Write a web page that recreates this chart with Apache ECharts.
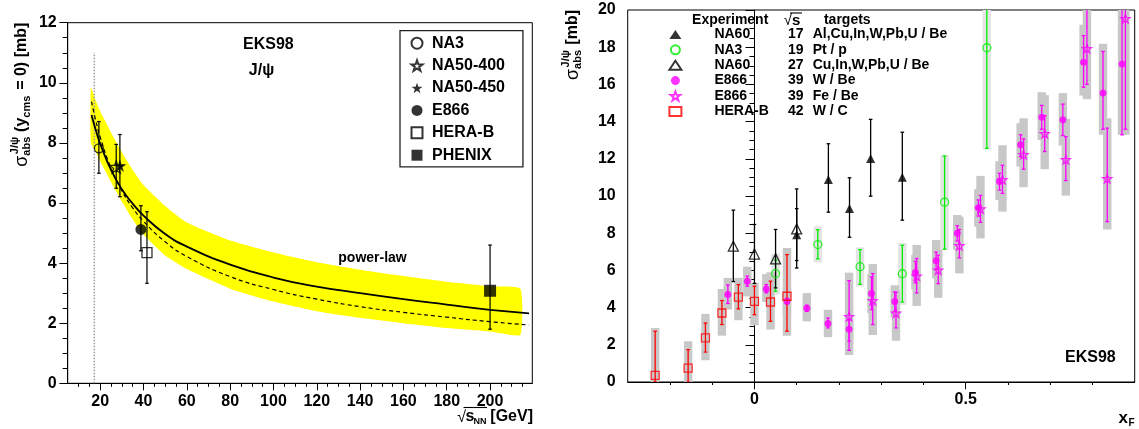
<!DOCTYPE html>
<html><head><meta charset="utf-8">
<script src="https://cdn.jsdelivr.net/npm/echarts@6/dist/echarts.min.js"></script>
<style>html,body{margin:0;padding:0;background:#fff}#c{width:1139px;height:429px}</style>
</head><body><div id="c"></div>
<script>
// ---------------- Left panel data ----------------
const leftNames = ['NA3', 'NA50-400', 'NA50-450', 'E866', 'HERA-B', 'PHENIX'];
const leftX  = [19.4, 27.4, 29.1, 38.8, 41.6, 200];
const leftY  = [7.82, 7.2, 7.24, 5.12, 4.35, 3.08];
const leftLo = [6.99, 6.49, 6.21, 4.41, 3.33, 1.80];
const leftHi = [8.71, 7.95, 8.28, 5.91, 5.71, 4.60];

const curveX  = [16, 18, 20, 25, 30, 35, 40, 50, 60, 80, 100, 120, 140, 160, 180, 200, 218];
const solidY  = [8.93, 8.42, 7.97, 7.10, 6.46, 5.98, 5.58, 4.97, 4.55, 3.95, 3.52, 3.22, 3.00, 2.80, 2.62, 2.44, 2.33];
const dashedY = [9.37, 8.73, 8.19, 7.16, 6.41, 5.84, 5.39, 4.71, 4.22, 3.55, 3.12, 2.80, 2.55, 2.36, 2.20, 2.05, 1.94];

const bandX     = [15.7, 18, 20, 25, 30, 35, 40, 50, 60, 80, 100, 120, 140, 160, 180, 200, 214];
const bandUpper = [9.84, 9.4, 9.05, 8.35, 7.7, 7.1, 6.6, 5.9, 5.35, 4.75, 4.35, 4.03, 3.78, 3.57, 3.38, 3.23, 3.15];
const bandLower = [7.99, 7.7, 7.4, 6.7, 6.05, 5.45, 4.95, 4.25, 3.8, 3.15, 2.72, 2.4, 2.18, 2.0, 1.84, 1.72, 1.61];

const thresholdX = 17.3;
const thresholdTop = 11;

const leftXLabels = [20, 40, 60, 80, 100, 120, 140, 160, 180, 200];
const leftXMinor  = [10, 15, 25, 30, 35, 45, 50, 55, 65, 70, 75, 85, 90, 95, 105, 110, 115, 125, 130, 135, 145, 150, 155, 165, 170, 175, 185, 190, 195, 205, 210, 215];

// ---------------- Right panel data ----------------
const rightSeriesNames = ['NA60 17', 'NA3 19', 'NA60 27', 'E866 W', 'E866 Fe', 'HERA-B 42'];
const rExpNames = ['NA60', 'NA3', 'NA60', 'E866', 'E866', 'HERA-B'];
const rSqrtS    = ['17', '19', '27', '39', '39', '42'];
const rTargets  = ['Al,Cu,In,W,Pb,U / Be', 'Pt / p', 'Cu,In,W,Pb,U / Be', 'W / Be', 'Fe / Be', 'W / C'];

const na60aX  = [0.1, 0.175, 0.225, 0.275, 0.35];
const na60aY  = [7.92, 10.89, 9.33, 12.02, 11.01];
const na60aLo = [6.53, 9.13, 7.78, 9.99, 8.70];
const na60aHi = [9.32, 12.81, 10.98, 14.12, 13.43];

const na3X     = [0.05, 0.15, 0.25, 0.35, 0.45, 0.55];
const na3Y     = [5.83, 7.39, 6.2, 5.82, 9.67, 17.97];
const na3Lo    = [4.88, 6.62, 5.25, 4.3, 7.14, 12.56];
const na3Hi    = [6.55, 8.19, 7.12, 7.35, 12.15, 20.8];
const na3SysLo = [4.7, 6.43, 5.14, 4.15, 7.1, 12.5];
const na3SysHi = [6.9, 8.37, 7.24, 7.48, 12.2, 20.8];

const na60bX  = [-0.05, 0.0, 0.05, 0.1];
const na60bY  = [7.3, 6.88, 6.62, 8.23];
const na60bLo = [5.4, 5.3, 5.06, 6.13];
const na60bHi = [9.24, 8.47, 8.2, 10.38];

const e866wX     = [-0.063, -0.017, 0.028, 0.077, 0.124, 0.174, 0.224, 0.277, 0.332, 0.381, 0.430, 0.480, 0.530, 0.580, 0.630, 0.680, 0.730, 0.779, 0.825, 0.870];
const e866wY     = [4.70, 5.42, 5.0, 4.34, 3.97, 3.15, 2.84, 4.76, 4.33, 5.89, 6.52, 8.0, 9.37, 10.78, 12.76, 14.24, 14.1, 17.19, 15.54, 17.1];
const e866wLo    = [4.22, 5.15, 4.79, 4.2, 3.80, 2.91, 2.2, 3.89, 3.80, 5.33, 6.05, 7.58, 8.92, 10.32, 12.12, 13.59, 13.25, 15.85, 13.59, 13.29];
const e866wHi    = [5.22, 5.69, 5.24, 4.5, 4.13, 3.44, 3.35, 5.65, 4.84, 6.49, 6.98, 8.40, 9.79, 11.22, 13.29, 14.87, 14.94, 18.62, 17.77, 20.8];
const e866wSysLo = [3.9, 4.6, 4.3, 3.6, 3.26, 2.41, 1.45, 3.7, 3.5, 4.98, 5.57, 7.1, 8.35, 9.78, 11.58, 13.02, 12.71, 15.40, 13.29, 13.29];
const e866wSysHi = [5.6, 6.2, 5.8, 5.1, 4.78, 3.88, 3.66, 5.8, 5.2, 6.83, 7.63, 8.98, 10.37, 11.87, 13.91, 15.58, 15.53, 19.21, 18.19, 20.8];

const e866fX     = [0.224, 0.280, 0.335, 0.384, 0.435, 0.485, 0.535, 0.587, 0.637, 0.687, 0.737, 0.787, 0.835, 0.878];
const e866fY     = [3.52, 4.38, 3.70, 5.69, 6.02, 7.33, 9.31, 10.88, 12.22, 13.35, 11.95, 17.92, 10.93, 19.53];
const e866fLo    = [1.7, 3.09, 2.91, 4.79, 5.29, 6.67, 8.58, 10.14, 11.44, 12.39, 10.83, 16.0, 8.62, 13.59];
const e866fHi    = [5.45, 5.83, 4.82, 6.64, 6.82, 8.2, 10.03, 11.65, 13.07, 14.32, 13.19, 20.8, 13.65, 20.8];
const e866fSysLo = [2.04, 2.53, 2.22, 4.09, 4.53, 5.84, 7.72, 9.16, 10.47, 11.44, 10.02, 15.2, 8.2, 13.29];
const e866fSysHi = [5.88, 6.34, 4.95, 7.37, 7.1, 8.89, 11.08, 12.73, 14.18, 15.42, 14.15, 20.8, 14.18, 20.8];

const herabX     = [-0.235, -0.157, -0.116, -0.077, -0.038, 0.0, 0.038, 0.077];
const herabY     = [0.36, 0.75, 2.37, 3.71, 4.56, 4.34, 4.30, 4.61];
const herabLo    = [0, 0, 1.61, 3.09, 3.93, 3.62, 3.26, 2.73];
const herabHi    = [2.73, 1.74, 3.17, 4.38, 5.24, 5.15, 5.42, 6.85];
const herabSysLo = [0, 0, 1.17, 2.49, 3.32, 3.05, 2.82, 2.49];
const herabSysHi = [2.9, 2.19, 3.66, 5.0, 5.6, 5.33, 5.9, 7.21];

const rightXLabels = [0, 0.5];
const rightXMinor  = [-0.2, -0.1, 0.1, 0.2, 0.3, 0.4, 0.6, 0.7, 0.8];

// ---------------- helpers ----------------
const FONT = 'Liberation Sans, Arial, Helvetica, sans-serif';
const STAR = 'path://M10,0 L12.35,6.76 L19.51,6.91 L13.8,11.24 L15.88,18.09 L10,14 L4.12,18.09 L6.2,11.24 L0.49,6.91 L7.65,6.76 Z';
const HOLLOW = 'rgba(0,0,0,0)';
const zip2 = (xs, ys) => xs.map((x, i) => [x, ys[i]]);
const zip3 = (xs, a, b) => xs.map((x, i) => [x, a[i], b[i]]);

function errRender(color, cap, lw) {
  return function (params, api) {
    const x = api.value(0), lo = api.value(1), hi = api.value(2);
    const a = api.coord([x, lo]), b = api.coord([x, hi]);
    const st = { stroke: color, lineWidth: lw };
    return { type: 'group', children: [
      { type: 'line', shape: { x1: a[0], y1: a[1], x2: b[0], y2: b[1] }, style: st },
      { type: 'line', shape: { x1: a[0] - cap, y1: a[1], x2: a[0] + cap, y2: a[1] }, style: st },
      { type: 'line', shape: { x1: b[0] - cap, y1: b[1], x2: b[0] + cap, y2: b[1] }, style: st }
    ] };
  };
}
function boxRender(fill, halfW) {
  return function (params, api) {
    const x = api.value(0), lo = api.value(1), hi = api.value(2);
    const a = api.coord([x, lo]), b = api.coord([x, hi]);
    return { type: 'rect', shape: { x: a[0] - halfW, y: b[1], width: 2 * halfW, height: a[1] - b[1] }, style: { fill: fill } };
  };
}
function bandRender(params, api) {
  const pts = [];
  for (let i = 0; i < bandX.length; i++) pts.push(api.coord([bandX[i], bandUpper[i]]));
  for (let i = bandX.length - 1; i >= 0; i--) pts.push(api.coord([bandX[i], bandLower[i]]));
  return { type: 'polygon', shape: { points: pts, smooth: 0.15 }, style: { fill: '#ffff00' } };
}

const axisLabelStyle = { color: '#000', fontFamily: FONT, fontWeight: 'bold', fontSize: 16 };
const blackLine = { lineStyle: { color: '#000', width: 1 } };

function scatterL(i, symbol, size, filled, z) {
  return { type: 'scatter', name: leftNames[i], xAxisIndex: 0, yAxisIndex: 0, z: z || 6,
    symbol: symbol, symbolSize: size, symbolKeepAspect: true, data: [[leftX[i], leftY[i]]],
    itemStyle: filled ? { color: '#000' } : { color: HOLLOW, borderColor: '#000', borderWidth: 1.3 } };
}
function scatterR(name, xs, ys, symbol, size, color, filled) {
  return { type: 'scatter', name: name, xAxisIndex: 2, yAxisIndex: 1, z: 6,
    symbol: symbol, symbolSize: size, symbolKeepAspect: true, data: zip2(xs, ys),
    itemStyle: filled ? { color: color } : { color: HOLLOW, borderColor: color, borderWidth: 1.3 } };
}
function errR(xs, lo, hi, color) {
  return { type: 'custom', xAxisIndex: 2, yAxisIndex: 1, z: 4, clip: true, silent: true,
    renderItem: errRender(color, 1.8, 1.3), data: zip3(xs, lo, hi) };
}
function boxR(xs, lo, hi, fill, z) {
  return { type: 'custom', xAxisIndex: 2, yAxisIndex: 1, z: z, clip: true, silent: true,
    renderItem: boxRender(fill, 4.2), data: zip3(xs, lo, hi) };
}

const series = [
  // left panel
  { type: 'custom', xAxisIndex: 0, yAxisIndex: 0, z: 1, silent: true, data: [[bandX[0], bandLower[0]]], renderItem: bandRender },
  { type: 'line', xAxisIndex: 0, yAxisIndex: 0, z: 2, symbol: 'none', silent: true,
    data: [[thresholdX, 0], [thresholdX, thresholdTop]], lineStyle: { color: '#9a9a9a', width: 1.5, type: [1.5, 1.5] } },
  { type: 'line', xAxisIndex: 0, yAxisIndex: 0, z: 3, symbol: 'none', smooth: true, silent: true,
    data: zip2(curveX, solidY), lineStyle: { color: '#000', width: 1.8 } },
  { type: 'line', xAxisIndex: 0, yAxisIndex: 0, z: 3, symbol: 'none', smooth: true, silent: true,
    data: zip2(curveX, dashedY), lineStyle: { color: '#000', width: 1.2, type: [4, 3] } },
  { type: 'custom', xAxisIndex: 0, yAxisIndex: 0, z: 4, silent: true,
    renderItem: errRender('#000', 1.8, 1.2), data: zip3(leftX, leftLo, leftHi) },
  scatterL(0, 'circle', 9, false),
  scatterL(1, STAR, 13, false, 6),
  scatterL(2, STAR, 13, true, 7),
  scatterL(3, 'circle', 11, true),
  scatterL(4, 'rect', 10, false),
  scatterL(5, 'rect', 12, true),
  // right panel
  boxR(na3X, na3SysLo, na3SysHi, '#e4e4e4', 1),
  boxR(herabX, herabSysLo, herabSysHi, '#c8c8c8', 2),
  boxR(e866wX, e866wSysLo, e866wSysHi, '#c8c8c8', 2),
  boxR(e866fX, e866fSysLo, e866fSysHi, '#c8c8c8', 2),
  errR(na60aX, na60aLo, na60aHi, '#000'),
  errR(na3X, na3Lo, na3Hi, '#00ee00'),
  errR(na60bX, na60bLo, na60bHi, '#000'),
  errR(e866wX, e866wLo, e866wHi, '#ff00ff'),
  errR(e866fX, e866fLo, e866fHi, '#ff00ff'),
  errR(herabX, herabLo, herabHi, '#ff0000'),
  scatterR(rightSeriesNames[0], na60aX, na60aY, 'triangle', 9, '#000', true),
  scatterR(rightSeriesNames[1], na3X, na3Y, 'circle', 8, '#00ee00', false),
  scatterR(rightSeriesNames[2], na60bX, na60bY, 'triangle', 10, '#000', false),
  scatterR(rightSeriesNames[3], e866wX, e866wY, 'circle', 7, '#ff00ff', true),
  scatterR(rightSeriesNames[4], e866fX, e866fY, STAR, 9, '#ff00ff', false),
  scatterR(rightSeriesNames[5], herabX, herabY, 'rect', 8, '#ff0000', false)
];

function txt(x, y, text, size, align, weight, extra) {
  return Object.assign({ type: 'text', x: x, y: y, z: 100,
    style: { text: text, fill: '#000', font: (weight || 'bold') + ' ' + size + 'px ' + FONT,
      textAlign: align || 'left', textVerticalAlign: 'middle', verticalAlign: 'middle' } }, extra || {});
}
function line(x1, y1, x2, y2) {
  return { type: 'line', z: 100, shape: { x1: x1, y1: y1, x2: x2, y2: y2 }, style: { stroke: '#000', lineWidth: 1.1 } };
}

const graphic = [
  // left panel texts
  txt(268.4, 44.3, 'EKS98', 16, 'center'),
  txt(261.5, 70.7, 'J/ψ', 16, 'center'),
  txt(372.5, 258, 'power-law', 14, 'center'),
  { type: 'group', x: 22, y: 22.7, rotation: Math.PI / 2, children: [
    txt(0, 0, ' = 0) [mb]', 16, 'right'),
    txt(-73, 5, 'cms', 11, 'right'),
    txt(-95, 0, ' (y', 16, 'right'),
    txt(-114, 5, 'abs', 11, 'right'),
    txt(-114, -7, 'J/ψ', 11, 'right'),
    txt(-133, 0, 'σ', 18, 'right', 'normal')
  ] },
  txt(533, 417, '[GeV]', 16, 'right'),
  txt(486.5, 422, 'NN', 9, 'right'),
  txt(474.5, 417, 's', 16, 'right'),
  txt(466, 418, '√', 16, 'right', 'normal'),
  line(463.5, 407.5, 487, 407.5),
  // right panel texts
  txt(730.2, 20.4, 'Experiment', 14, 'center'),
  txt(792, 21, '√', 15, 'right', 'normal'),
  txt(792, 21, 's', 15, 'left'),
  line(790, 13, 802, 13),
  txt(847.3, 20.4, 'targets', 14, 'center'),
  txt(1065, 357.3, 'EKS98', 16, 'left'),
  { type: 'group', x: 573, y: 10, rotation: Math.PI / 2, children: [
    txt(0, 0, ' [mb]', 16, 'right'),
    txt(-40, 5, 'abs', 11, 'right'),
    txt(-40, -7, 'J/ψ', 11, 'right'),
    txt(-59, 0, 'σ', 18, 'right', 'normal')
  ] },
  txt(1128, 418.5, 'x', 17, 'right'),
  txt(1128.5, 423, 'F', 10, 'left')
];

const option = {
  animation: false,
  backgroundColor: '#fff',
  grid: [
    { left: 67.7, top: 22.7, width: 464.6, height: 360.6, show: true, borderColor: '#000', borderWidth: 1, backgroundColor: 'transparent' },
    { left: 627.7, top: 10, width: 507, height: 372, show: true, borderColor: '#000', borderWidth: 1, backgroundColor: 'transparent' }
  ],
  xAxis: [
    { type: 'value', gridIndex: 0, position: 'bottom', min: 5, max: 219.5, axisLine: blackLine,
      axisTick: { show: true, length: 7, customValues: leftXLabels, lineStyle: { color: '#000' } },
      axisLabel: Object.assign({ customValues: leftXLabels, margin: 10 }, axisLabelStyle), splitLine: { show: false } },
    { type: 'value', gridIndex: 0, position: 'bottom', min: 5, max: 219.5, axisLine: { show: false },
      axisTick: { show: true, length: 3.5, customValues: leftXMinor, lineStyle: { color: '#000' } },
      axisLabel: { show: false }, splitLine: { show: false } },
    { type: 'value', gridIndex: 1, position: 'bottom', min: -0.3, max: 0.9, axisLine: blackLine,
      axisTick: { show: true, length: 7.3, customValues: rightXLabels, lineStyle: { color: '#000' } },
      axisLabel: Object.assign({ customValues: rightXLabels, margin: 10, formatter: v => (v === 0 ? '0' : String(v)) }, axisLabelStyle),
      splitLine: { show: false } },
    { type: 'value', gridIndex: 1, position: 'bottom', min: -0.3, max: 0.9, axisLine: { show: false },
      axisTick: { show: true, length: 3, customValues: rightXMinor, lineStyle: { color: '#000' } },
      axisLabel: { show: false }, splitLine: { show: false } }
  ],
  yAxis: [
    { type: 'value', gridIndex: 0, position: 'left', min: 0, max: 12, interval: 2, axisLine: Object.assign({ show: true }, blackLine),
      axisTick: { show: true, length: 8.3, lineStyle: { color: '#000' } },
      minorTick: { show: true, splitNumber: 4, length: 5, lineStyle: { color: '#000' } },
      axisLabel: Object.assign({ margin: 11 }, axisLabelStyle), splitLine: { show: false }, minorSplitLine: { show: false } },
    { type: 'value', gridIndex: 1, position: 'left', min: 0, max: 20, interval: 2, axisLine: Object.assign({ show: true }, blackLine),
      axisTick: { show: true, length: 9, lineStyle: { color: '#000' } },
      minorTick: { show: true, splitNumber: 4, length: 5, lineStyle: { color: '#000' } },
      axisLabel: Object.assign({ margin: 12 }, axisLabelStyle), splitLine: { show: false }, minorSplitLine: { show: false } }
  ],
  legend: [
    { data: leftNames, orient: 'vertical', left: 400, top: 30.7, itemGap: 0, itemWidth: 11, itemHeight: 11,
      symbolKeepAspect: true,
      padding: [1.3, 18, 0.5, 10.5], backgroundColor: '#fff', borderColor: '#222', borderWidth: 1.3, borderRadius: 0,
      selectedMode: false, z: 50,
      formatter: function (name) { return '{p|}{n|' + name + '}'; },
      textStyle: { color: '#000', fontFamily: FONT, fontWeight: 'bold', fontSize: 16, lineHeight: 22.4,
        rich: { p: { width: 4.5 }, n: { color: '#000', fontFamily: FONT, fontWeight: 'bold', fontSize: 16 } } } },
    { data: rightSeriesNames, orient: 'vertical', left: 668.4, top: 26.7, itemGap: 0, itemWidth: 12, itemHeight: 9,
      symbolKeepAspect: true, padding: 0, selectedMode: false, z: 50,
      formatter: function (name) {
        const i = rightSeriesNames.indexOf(name);
        return '{p|}{a|' + rExpNames[i] + '}{b|' + rSqrtS[i] + '}{c|' + rTargets[i] + '}';
      },
      textStyle: { color: '#000', fontFamily: FONT, fontWeight: 'bold', fontSize: 14, lineHeight: 15.4,
        rich: {
          p: { width: 28 },
          a: { width: 73.6, color: '#000', fontFamily: FONT, fontWeight: 'bold', fontSize: 14 },
          b: { width: 24.7, color: '#000', fontFamily: FONT, fontWeight: 'bold', fontSize: 14 },
          c: { color: '#000', fontFamily: FONT, fontWeight: 'bold', fontSize: 14 }
        } } }
  ],
  graphic: graphic,
  series: series
};

const chart = echarts.init(document.getElementById('c'), null, { renderer: 'canvas' });
chart.setOption(option);
</script></body></html>
